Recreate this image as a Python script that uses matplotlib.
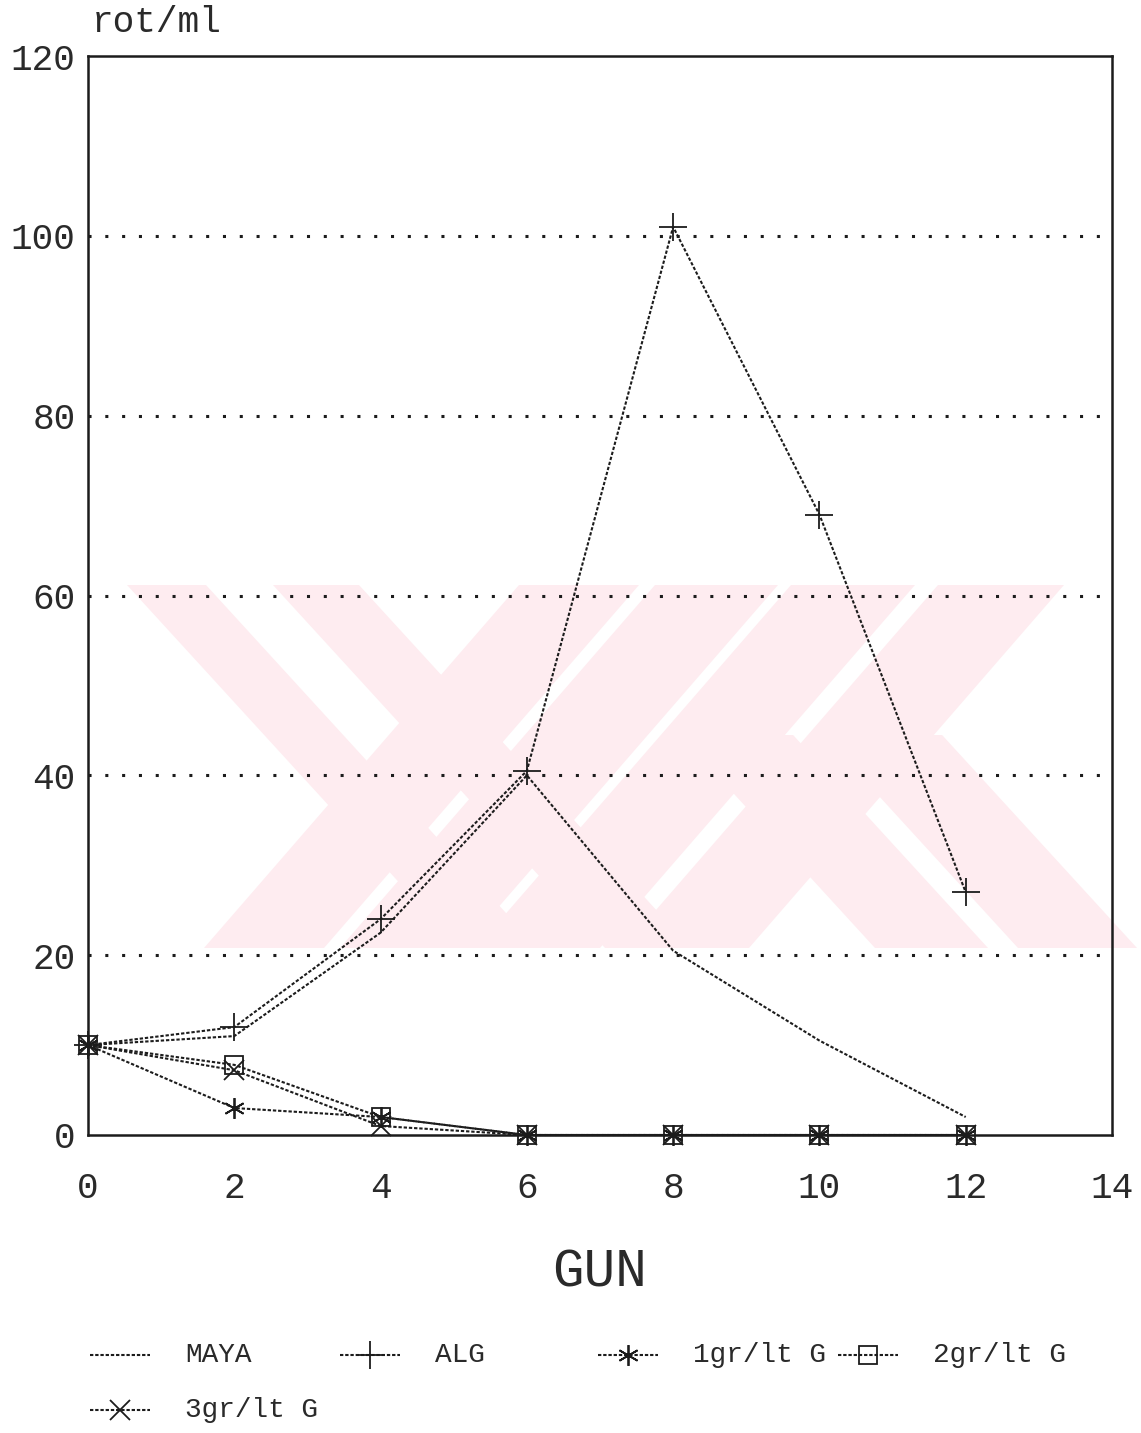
import matplotlib.pyplot as plt
from matplotlib.patches import Polygon

# days and rotifer counts (rot/ml)
days = [0, 2, 4, 6, 8, 10, 12]
maya = [10, 11, 22.5, 40, 20.5, 10.5, 2]
alg = [10, 12, 24, 40.5, 101, 69, 27]
g1 = [10, 3, 2, 0, 0, 0, 0]
g2 = [10, 7.8, 2, 0, 0, 0, 0]
g3 = [10, 7.2, 1, 0, 0, 0, 0]

labels = ["MAYA", "ALG", "1gr/lt G", "2gr/lt G", "3gr/lt G"]
markers = [None, "+", (6, 2, 0), "s", "x"]
msizes = [0, 20, 15, 13, 14]

yticks = [0, 20, 40, 60, 80, 100, 120]
xticks = [0, 2, 4, 6, 8, 10, 12, 14]

W, H = 1141, 1433
ink = "#1c1c1c"
font = "Liberation Mono"
line_style = (0, (1.6, 0.9))

fig = plt.figure(figsize=(W / 100, H / 100), dpi=100)

# page layer in pixel coordinates (watermark, legend, caption)
bg = fig.add_axes([0, 0, 1, 1], zorder=0)
bg.set_xlim(0, W)
bg.set_ylim(H, 0)
bg.axis("off")

pink = (0.995, 0.925, 0.94)
top, bot = 585, 948


def band(x_top, x_bot, y0=top, y1=bot):
    (a, b), (c, d) = x_top, x_bot
    bg.add_patch(Polygon([(a, y0), (b, y0), (d, y1), (c, y1)],
                         closed=True, color=pink, lw=0, zorder=0))


# the pink "XX" watermark, made of double bands
band((127, 206), (459, 538))
band((273, 359), (605, 691))
band((519, 639), (204, 324))
band((655, 778), (340, 463))
band((791, 915), (476, 600))
band((938, 1064), (623, 749))
c_start = 735
band((875 - 0.915 * (bot - c_start), 988 - 0.915 * (bot - c_start)), (875, 988), c_start, bot)
band((1018 - 0.915 * (bot - c_start), 1137 - 0.915 * (bot - c_start)), (1018, 1137), c_start, bot)

ax = fig.add_axes([88 / W, 1 - 1135 / H, (1112 - 88) / W, (1135 - 56) / H], zorder=1)
ax.patch.set_alpha(0)

series = [maya, alg, g1, g2, g3]
for vals, lab, mk, ms in zip(series, labels, markers, msizes):
    ax.plot(days, vals, color=ink, lw=1.5, ls=line_style, marker=mk, ms=ms,
            mew=1.3, mfc="none", mec=ink, clip_on=False, zorder=3)

ax.set_xlim(0, 14)
ax.set_ylim(0, 120)
ax.set_xticks(xticks)
ax.set_yticks(yticks)
ax.tick_params(length=0, labelsize=26, labelcolor="#2a2a2a")
ax.tick_params(axis="x", pad=26)
ax.tick_params(axis="y", pad=9)
for t in ax.get_xticklabels() + ax.get_yticklabels():
    t.set_family(font)

for y in yticks[1:-1]:
    ax.axhline(y, color=ink, lw=2.2, ls=(0, (1, 4.5)), zorder=2)

for s in ax.spines.values():
    s.set_color(ink)
    s.set_linewidth(1.8)

ax.set_xlabel("GUN", family=font, fontsize=38, color="#2a2a2a", labelpad=30)
bg.text(92, 22, "rot/ml", family=font, fontsize=26, color="#2a2a2a",
        va="center", ha="left")

# legend laid out like the printout
slots = [(90, 1355), (340, 1355), (598, 1355), (838, 1355), (90, 1410)]
for (x, y), lab, mk, ms in zip(slots, labels, markers, msizes):
    bg.plot([x, x + 60], [y, y], color=ink, lw=1.5, ls=line_style)
    if mk is not None:
        bg.plot([x + 30], [y], color=ink, marker=mk, ms=ms, mew=1.3,
                mfc="none", mec=ink)
    bg.text(x + 95, y, lab, family=font, fontsize=20, color="#2a2a2a",
            va="center", ha="left")

fig.savefig("out.png", dpi=100)
